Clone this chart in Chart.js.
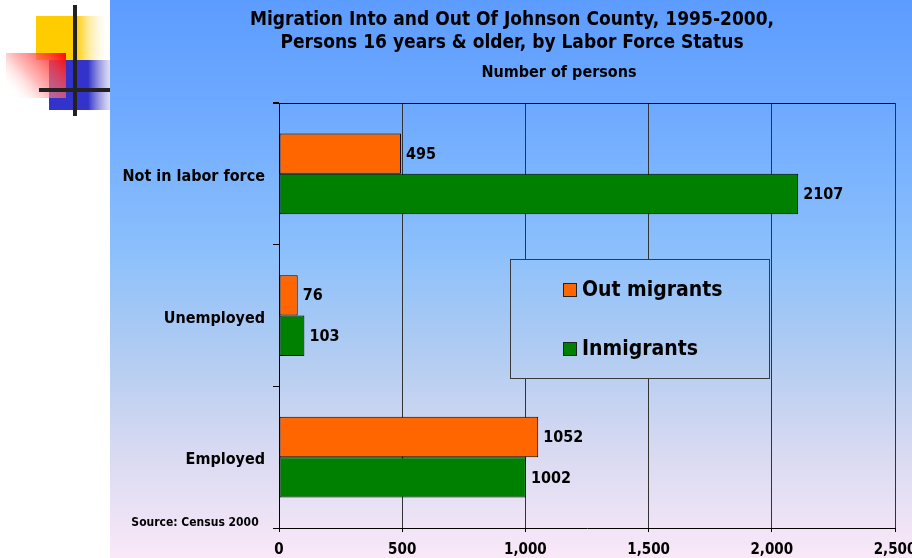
<!DOCTYPE html>
<html>
<head>
<meta charset="utf-8">
<script src="https://cdn.jsdelivr.net/npm/chart.js@4.4.1/dist/chart.umd.min.js"></script>
<style>
html,body{margin:0;padding:0;background:#fff;}
#wrap{width:912px;height:558px;position:relative;}
</style>
</head>
<body>
<div id="wrap"><canvas id="c" width="912" height="558"></canvas></div>
<script>
const categories = ["Not in labor force", "Unemployed", "Employed"];
const outMigrants = [495, 76, 1052];
const inMigrants = [2107, 103, 1002];
const seriesNames = ["Out migrants", "Inmigrants"];
const xTicks = [0, 500, 1000, 1500, 2000, 2500];
const titleLines = ["Migration Into and Out Of Johnson County, 1995-2000,", "Persons 16 years & older, by Labor Force Status"];
const subtitle = "Number of persons";
const sourceNote = "Source: Census 2000";

const FONT = '"DejaVu Sans Condensed", "DejaVu Sans", sans-serif';
let bgGrad = null;
function getGrad(ctx){
  const g = ctx.createLinearGradient(0,0,0,558);
  g.addColorStop(0, '#5d9cff');
  g.addColorStop(0.2, '#6eaaff');
  g.addColorStop(0.45, '#8cc0fc');
  g.addColorStop(0.62, '#aecbf2');
  g.addColorStop(0.8, '#d6d9f1');
  g.addColorStop(1, '#fae8f8');
  return g;
}

const bgPlugin = {
  id: 'bg',
  beforeDraw(chart){
    const ctx = chart.ctx;
    ctx.save();
    ctx.fillStyle = '#ffffff';
    ctx.fillRect(0,0,912,558);
    bgGrad = getGrad(ctx);
    ctx.fillStyle = bgGrad;
    ctx.fillRect(110,0,802,558);
    ctx.restore();
  }
};

const overlayPlugin = {
  id: 'overlay',
  afterDraw(chart){
    const ctx = chart.ctx;
    const a = chart.chartArea;
    ctx.save();
    // data labels
    ctx.fillStyle = '#000';
    ctx.font = 'bold 16px ' + FONT;
    ctx.textAlign = 'left';
    ctx.textBaseline = 'middle';
    chart.data.datasets.forEach((ds, di) => {
      const meta = chart.getDatasetMeta(di);
      meta.data.forEach((el, i) => {
        ctx.fillText(String(ds.data[i]), el.x + 5, el.y + 1);
      });
    });
    // top border line of plot area
    ctx.strokeStyle = '#000';
    ctx.lineWidth = 1;
    ctx.beginPath();
    ctx.moveTo(a.left-6, Math.round(a.top)+0.5);
    ctx.lineTo(a.right, Math.round(a.top)+0.5);
    ctx.stroke();

    // legend box
    const lx = 510.5, ly = 259.5, lw = 259, lh = 119;
    ctx.fillStyle = bgGrad;
    ctx.fillRect(lx, ly, lw, lh);
    ctx.strokeStyle = '#3a3a3a';
    ctx.lineWidth = 1;
    ctx.strokeRect(lx, ly, lw, lh);
    const items = chart.data.datasets;
    const ys = [290, 349];
    ctx.font = 'bold 21px ' + FONT;
    items.forEach((ds, i) => {
      ctx.fillStyle = ds.backgroundColor;
      ctx.fillRect(563.5, ys[i]-6.5, 13, 13);
      ctx.strokeStyle = '#222';
      ctx.strokeRect(563.5, ys[i]-6.5, 13, 13);
      ctx.fillStyle = '#000';
      ctx.textBaseline = 'middle';
      ctx.fillText(ds.label, 582, ys[i]+1);
    });

    // titles
    ctx.fillStyle = '#000';
    ctx.textAlign = 'center';
    ctx.textBaseline = 'middle';
    ctx.font = 'bold 19px ' + FONT;
    ctx.fillText(titleLines[0], 512, 20);
    ctx.fillText(titleLines[1], 512, 43);
    ctx.font = 'bold 16px ' + FONT;
    ctx.fillText(subtitle, 559, 73);
    ctx.font = 'bold 12px ' + FONT;
    ctx.fillText(sourceNote, 195, 523);

    // decoration
    ctx.fillStyle = '#ffcc00';
    ctx.fillRect(36, 16, 40, 44);
    let g = ctx.createLinearGradient(76,0,110,0);
    g.addColorStop(0,'#ffcc00'); g.addColorStop(1,'rgba(255,255,255,0)');
    ctx.fillStyle = g;
    ctx.fillRect(76, 16, 34, 44);
    ctx.fillStyle = '#3333cc';
    ctx.fillRect(49, 60, 40, 50);
    g = ctx.createLinearGradient(88,0,110,0);
    g.addColorStop(0,'#3333cc'); g.addColorStop(1,'rgba(200,200,235,0.6)');
    ctx.fillStyle = g;
    ctx.fillRect(88, 60, 22, 50);
    g = ctx.createLinearGradient(66,53,14,98);
    g.addColorStop(0,'#ff0000'); g.addColorStop(0.6,'rgba(255,140,140,0.6)'); g.addColorStop(1,'rgba(255,255,255,0)');
    ctx.fillStyle = g;
    ctx.fillRect(6, 53, 60, 45);
    ctx.fillStyle = '#222';
    ctx.fillRect(73, 5, 4, 111);
    ctx.fillRect(39, 88, 71, 4);
    ctx.restore();
  }
};

new Chart(document.getElementById('c'), {
  type: 'bar',
  data: {
    labels: categories,
    datasets: [
      { label: seriesNames[0], data: outMigrants, backgroundColor: '#ff6600', borderColor: '#000', borderWidth: 1, borderSkipped: false },
      { label: seriesNames[1], data: inMigrants, backgroundColor: '#008000', borderColor: '#000', borderWidth: 1, borderSkipped: false }
    ]
  },
  options: {
    indexAxis: 'y',
    responsive: false,
    animation: false,
    devicePixelRatio: 1,
    categoryPercentage: 0.57,
    barPercentage: 1,
    layout: { padding: { left: 110, right: 17, top: 103, bottom: 0 } },
    plugins: { legend: { display: false }, title: { display: false }, tooltip: { enabled: false } },
    scales: {
      x: {
        min: 0, max: 2500,
        afterBuildTicks(scale){ scale.ticks = xTicks.map(v => ({value: v})); },
        afterFit(scale){ scale.height = 30; scale.paddingLeft = 0; scale.paddingRight = 0; },
        grid: { color: '#333', lineWidth: 1, tickLength: 4, tickColor: '#000' },
        border: { color: '#000', width: 1 },
        ticks: {
          padding: 9,
          color: '#000',
          font: { family: '"Liberation Sans Narrow", "DejaVu Sans Condensed", sans-serif', weight: 'bold', size: 15 },
          callback: v => Number(v).toLocaleString('en-US')
        }
      },
      y: {
        afterFit(scale){ scale.width = 169; scale.paddingTop = 0; scale.paddingBottom = 0; },
        grid: { drawOnChartArea: false, tickLength: 6, color: '#000' },
        border: { color: '#000', width: 1 },
        ticks: { padding: 8, labelOffset: 3, color: '#000', font: { family: FONT, weight: 'bold', size: 16 } }
      }
    }
  },
  plugins: [bgPlugin, overlayPlugin]
});
</script>
</body>
</html>
